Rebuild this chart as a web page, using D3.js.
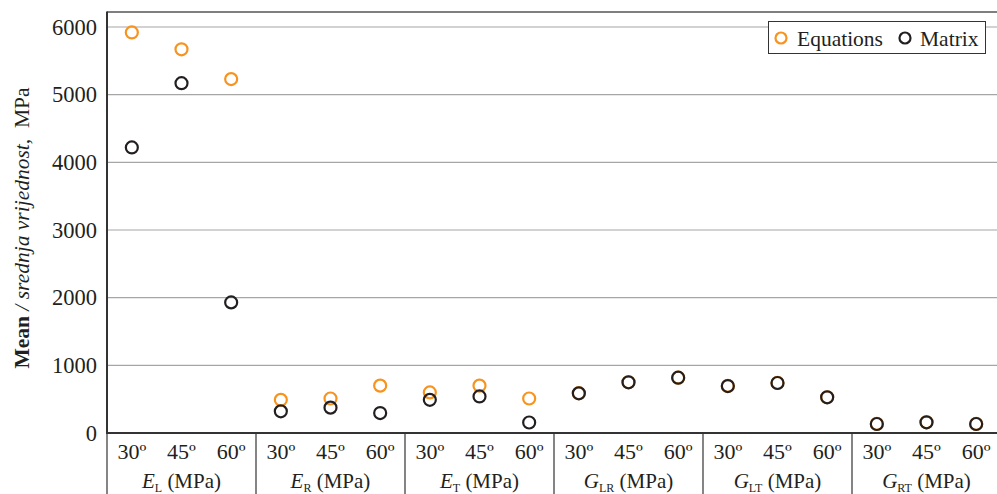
<!DOCTYPE html>
<html>
<head>
<meta charset="utf-8">
<script src="https://cdn.jsdelivr.net/npm/d3@7"></script>
<style>
  html, body { margin: 0; padding: 0; background: #fff; }
  svg { display: block; font-family: "Liberation Serif", "Times New Roman", serif; }
</style>
</head>
<body>
<svg id="chart" width="997" height="494"></svg>
<script>
// Property groups and the three angles in each
const groups = [
  { sym: "E", sub: "L" },
  { sym: "E", sub: "R" },
  { sym: "E", sub: "T" },
  { sym: "G", sub: "LR" },
  { sym: "G", sub: "LT" },
  { sym: "G", sub: "RT" }
];
const angles = ["30º", "45º", "60º"];

// Mean values (MPa), one per group/angle, in group order
const equations = [5920, 5670, 5230, 490, 510, 700, 600, 700, 510, 588, 750, 818, 696, 740, 528, 134, 158, 134];
const matrix    = [4220, 5170, 1930, 320, 375, 295, 490, 540, 155, 586, 749, 817, 694, 739, 527, 133, 158, 133];

const yTicks = [0, 1000, 2000, 3000, 4000, 5000, 6000];

const svg = d3.select("#chart");
const plotLeft = 107, plotRight = 1001, plotTop = 12, zeroY = 433;
const ink = "#231f20";

const keys = [];
groups.forEach((g, gi) => angles.forEach((a, ai) => keys.push(gi + "-" + ai)));

const x = d3.scaleBand().domain(keys).range([plotLeft, plotRight]).padding(0);
const xg = d3.scaleBand().domain(groups.map((g, i) => i)).range([plotLeft, plotRight]).padding(0);
const y = d3.scaleLinear().domain([0, 6000]).range([zeroY, 27]);

// Horizontal gridlines
svg.append("g").selectAll("line").data(yTicks.filter(d => d > 0)).join("line")
  .attr("x1", plotLeft).attr("x2", plotRight)
  .attr("y1", d => y(d)).attr("y2", d => y(d))
  .attr("stroke", "#a6a6a6").attr("stroke-width", 1.2);

// Top frame line
svg.append("line").attr("x1", plotLeft).attr("x2", plotRight).attr("y1", plotTop).attr("y2", plotTop)
  .attr("stroke", "#555").attr("stroke-width", 1.5);

// Y axis tick labels
const yAxis = d3.axisLeft(y).tickValues(yTicks).tickSize(0).tickPadding(10).tickFormat(d3.format("d"));
const ya = svg.append("g").attr("transform", `translate(${plotLeft},0)`).call(yAxis);
ya.select(".domain").remove();
ya.selectAll("text").attr("font-size", 22.5).attr("fill", ink)
  .attr("font-family", "Liberation Serif, Times New Roman, serif");

// Left axis line
svg.append("line").attr("x1", plotLeft).attr("x2", plotLeft).attr("y1", plotTop - 0.5).attr("y2", zeroY + 1)
  .attr("stroke", "#333").attr("stroke-width", 2);

// Group separators below the zero line
svg.append("g").selectAll("line").data(d3.range(groups.length + 1)).join("line")
  .attr("x1", i => i < groups.length ? xg(i) : plotRight)
  .attr("x2", i => i < groups.length ? xg(i) : plotRight)
  .attr("y1", zeroY).attr("y2", 494)
  .attr("stroke", "#333").attr("stroke-width", 1.2);

// Angle labels
svg.append("g").selectAll("text").data(keys).join("text")
  .attr("x", k => x(k) + x.bandwidth() / 2)
  .attr("y", 459)
  .attr("text-anchor", "middle")
  .attr("font-size", 22).attr("fill", ink)
  .text(k => angles[+k.split("-")[1]]);

// Group labels with italic symbol and subscript
const gl = svg.append("g").selectAll("text").data(groups).join("text")
  .attr("x", (g, i) => xg(i) + xg.bandwidth() / 2)
  .attr("y", 488)
  .attr("text-anchor", "middle")
  .attr("font-size", 21).attr("fill", ink);
gl.append("tspan").attr("font-style", "italic").text(g => g.sym);
gl.append("tspan").attr("font-size", 12).attr("dy", 4).text(g => g.sub);
gl.append("tspan").attr("dy", -4).text(" (MPa)");

// Zero axis line
svg.append("line").attr("x1", plotLeft - 1).attr("x2", plotRight).attr("y1", zeroY).attr("y2", zeroY)
  .attr("stroke", "#333").attr("stroke-width", 2);

// Y axis title
const yt = svg.append("text")
  .attr("transform", `translate(29,228) rotate(-90)`)
  .attr("text-anchor", "middle")
  .attr("font-size", 21.5).attr("fill", ink);
yt.append("tspan").attr("font-weight", "bold").text("Mean");
yt.append("tspan").attr("font-style", "italic").text(" / srednja vrijednost,");
yt.append("tspan").text("\u00A0 MPa");

// Series markers
const series = [
  { name: "Equations", values: equations, color: "#f7931e" },
  { name: "Matrix", values: matrix, color: ink }
];
series.forEach(s => {
  svg.append("g").selectAll("circle").data(s.values).join("circle")
    .attr("cx", (d, i) => x(keys[i]) + x.bandwidth() / 2)
    .attr("cy", d => y(d))
    .attr("r", 6)
    .attr("fill", "none")
    .attr("stroke", s.color)
    .attr("stroke-width", 2.2);
});

// Legend
const lg = svg.append("g");
lg.append("rect").attr("x", 768.5).attr("y", 21.5).attr("width", 217).attr("height", 32)
  .attr("fill", "#fff").attr("stroke", "#333").attr("stroke-width", 1);
const items = [{ s: series[0], cx: 781, tx: 797 }, { s: series[1], cx: 905, tx: 920 }];
items.forEach(it => {
  lg.append("circle").attr("cx", it.cx).attr("cy", 38).attr("r", 5.5)
    .attr("fill", "none").attr("stroke", it.s.color).attr("stroke-width", 2.2);
  lg.append("text").attr("x", it.tx).attr("y", 45.5).attr("font-size", 21.5)
    .attr("fill", ink).text(it.s.name);
});
</script>
</body>
</html>
